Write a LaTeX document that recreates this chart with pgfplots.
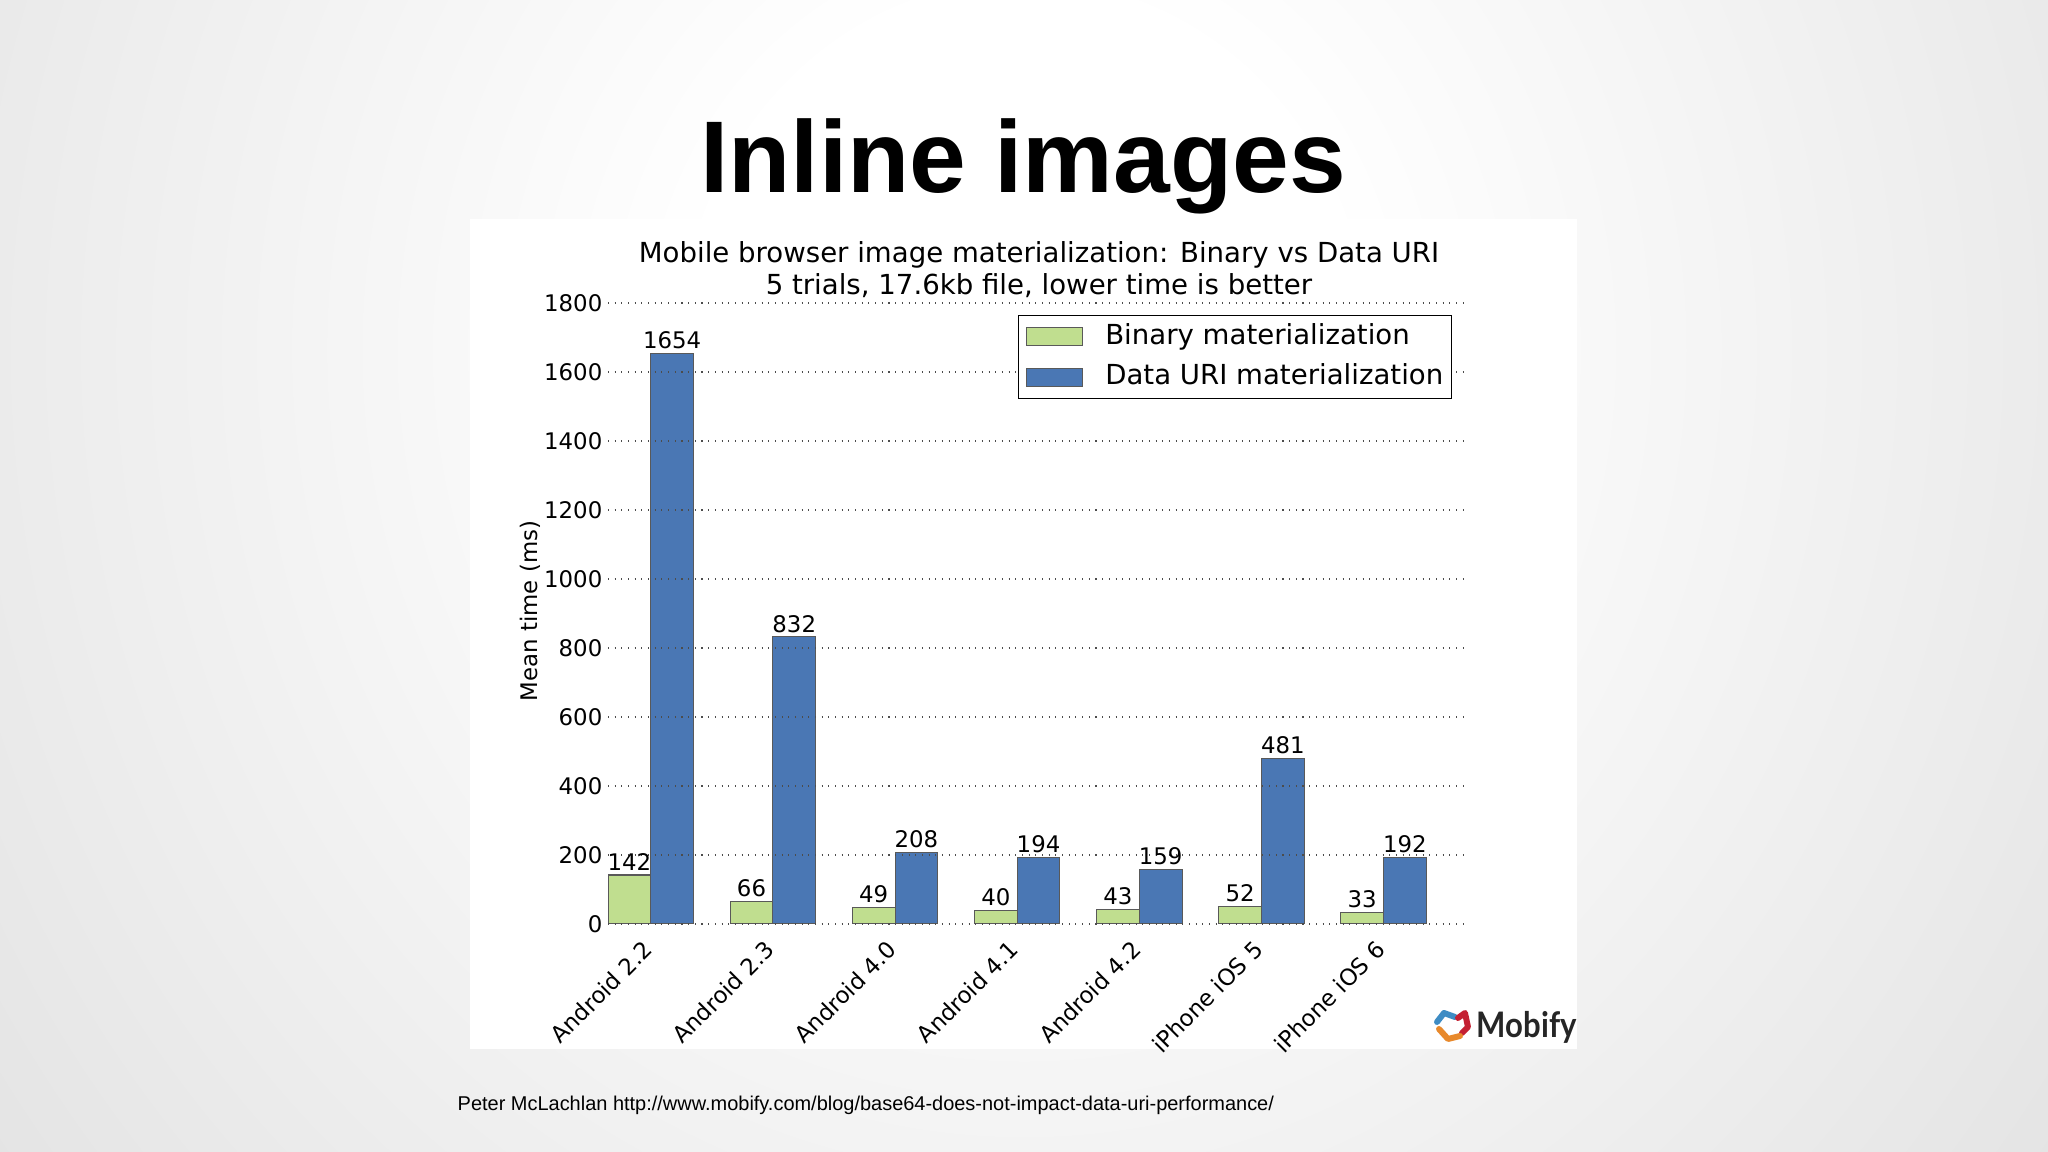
\documentclass[border=0pt]{standalone}
\usepackage{pgfplots}
\pgfplotsset{compat=1.18}
\usepackage{fontspec}
\setmainfont{DejaVu Sans}
\newfontfamily\arialfont{Liberation Sans}
\newfontfamily\latofont{Lato}
\definecolor{bargreen}{RGB}{192,222,143}
\definecolor{barblue}{RGB}{74,119,180}
\definecolor{bgedge}{gray}{0.79}
\definecolor{mblue}{RGB}{62,140,196}
\definecolor{mred}{RGB}{196,32,50}
\definecolor{morange}{RGB}{232,137,44}
\pgfdeclareradialshading{slidebg}{\pgfpoint{0bp}{0bp}}{color(0bp)=(white); color(8bp)=(white); color(54bp)=(bgedge); color(80bp)=(bgedge)}
\newcommand{\tickfont}{\fontsize{6.5pt}{7.8pt}\selectfont}
\newcommand{\bigfont}{\fontsize{7.85pt}{9.4pt}\selectfont}
\begin{document}
\begin{tikzpicture}
\path[use as bounding box] (0,0) rectangle (20.48,11.52);
\begin{scope}
\clip (0,0) rectangle (20.48,11.52);
\shade[shading=slidebg] (0,-2.98) rectangle (20.48,19.02);
\end{scope}
\fill[white] (4.70,1.03) rectangle (15.77,9.33);
\node[anchor=base, inner sep=0pt, font=\arialfont\bfseries\fontsize{29pt}{34pt}\selectfont] at (10.23,9.59) {Inline images};
\node[anchor=base, inner sep=0pt, font=\bigfont] at (10.39,8.89) {Mobile browser image materialization: Binary vs Data URI};
\node[anchor=base, inner sep=0pt, font=\bigfont] at (10.39,8.57) {5 trials, 17.6kb file, lower time is better};
\node[anchor=base, rotate=90, inner sep=0pt, font=\tickfont] at (5.37,5.41) {Mean time (ms)};
\node[anchor=base west, inner sep=0pt, font=\arialfont\fontsize{5.68pt}{6.7pt}\selectfont] at (4.57,0.41) {Peter McLachlan http://www.mobify.com/blog/base64-does-not-impact-data-uri-performance/};
% Mobify logo
\draw[mblue, line width=1.7pt, line cap=round, line join=round] (14.37,1.30) -- (14.44,1.39) -- (14.55,1.35);
\draw[mred, line width=1.7pt, line cap=round, line join=round] (14.58,1.34) -- (14.65,1.39) -- (14.68,1.25) -- (14.62,1.19);
\draw[morange, line width=1.7pt, line cap=round, line join=round] (14.39,1.23) -- (14.48,1.13) -- (14.60,1.16);
\node[anchor=base west, inner sep=0pt, xscale=0.885, text=black!85, font=\latofont\bfseries\fontsize{10pt}{12pt}\selectfont] at (14.76,1.14) {Mobify};
\begin{axis}[
  at={(6.08cm,2.28cm)}, anchor=south west,
  scale only axis, width=8.55cm, height=6.21cm,
  xmin=-0.35, xmax=6.65, ymin=0, ymax=1800,
  ybar,
  xtick={0,1,2,3,4,5,6},
  xticklabels={Android 2.2,Android 2.3,Android 4.0,Android 4.1,Android 4.2,iPhone iOS 5,iPhone iOS 6},
  ytick={0,200,400,600,800,1000,1200,1400,1600,1800},
  axis line style={draw=none}, tick style={draw=none},
  ymajorgrids,
  major grid style={black!70, line width=0.35pt, dash pattern=on 0.3pt off 1.6pt},
  axis on top,
  /pgf/number format/assume math mode=true,
  /pgf/number format/set thousands separator={},
  scaled y ticks=false,
  tick label style={font=\tickfont},
  yticklabel style={inner sep=0pt, xshift=-0.05cm},
  xticklabel style={rotate=45, anchor=north east, inner sep=0pt, xshift=-0.06cm, yshift=0.07cm},
  nodes near coords,
  nodes near coords style={font=\tickfont, inner sep=0pt, yshift=0.04cm, anchor=south},
  legend cell align=left,
  legend style={at={(1,1)}, anchor=north east, xshift=-0.11cm, yshift=-0.12cm,
    draw=black, line width=0.4pt, font=\bigfont, inner xsep=0.08cm, inner ysep=0.01cm, row sep=0cm,
    nodes={inner xsep=0pt},
    /tikz/every odd column/.append style={column sep=0.22cm}},
  legend image code/.code={\draw[#1] (0.04cm,-0.09cm) rectangle (0.60cm,0.09cm);},
]
\addplot[fill=bargreen, draw=black!65, line width=0.3pt, bar width=0.35, bar shift=-0.175]
  coordinates {(0,142) (1,66) (2,49) (3,40) (4,43) (5,52) (6,33)};
\addplot[fill=barblue, draw=black!65, line width=0.3pt, bar width=0.35, bar shift=0.175]
  coordinates {(0,1654) (1,832) (2,208) (3,194) (4,159) (5,481) (6,192)};
\legend{Binary materialization, Data URI materialization}
\end{axis}
\end{tikzpicture}
\end{document}
